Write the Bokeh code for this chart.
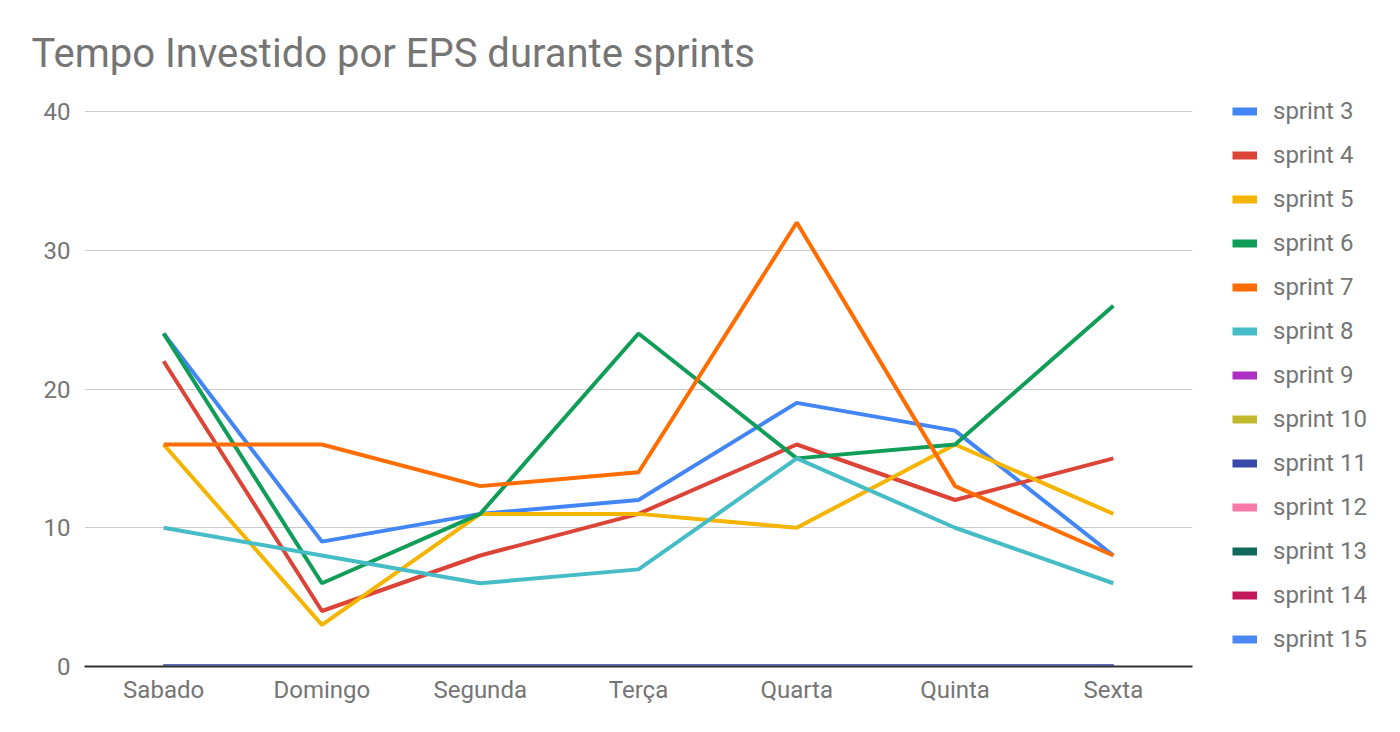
from bokeh.plotting import figure
from bokeh.layouts import row
from bokeh.models import FactorRange, Range1d, FixedTicker, Legend, LegendItem
from bokeh.embed import file_html
from bokeh.resources import INLINE

days = ["Sabado", "Domingo", "Segunda", "Terça", "Quarta", "Quinta", "Sexta"]
series_names = ["sprint 3", "sprint 4", "sprint 5", "sprint 6", "sprint 7", "sprint 8", "sprint 9",
                "sprint 10", "sprint 11", "sprint 12", "sprint 13", "sprint 14", "sprint 15"]
sprint3 = [24, 9, 11, 12, 19, 17, 8]
sprint4 = [22, 4, 8, 11, 16, 12, 15]
sprint5 = [16, 3, 11, 11, 10, 16, 11]
sprint6 = [24, 6, 11, 24, 15, 16, 26]
sprint7 = [16, 16, 13, 14, 32, 13, 8]
sprint8 = [10, 8, 6, 7, 15, 10, 6]
sprint9 = [0, 0, 0, 0, 0, 0, 0]
sprint10 = [0, 0, 0, 0, 0, 0, 0]
sprint11 = [0, 0, 0, 0, 0, 0, 0]
sprint12 = [0, 0, 0, 0, 0, 0, 0]
sprint13 = [0, 0, 0, 0, 0, 0, 0]
sprint14 = [0, 0, 0, 0, 0, 0, 0]
sprint15 = [0, 0, 0, 0, 0, 0, 0]
y_ticks = [0, 10, 20, 30, 40]

all_series = [sprint3, sprint4, sprint5, sprint6, sprint7, sprint8, sprint9,
              sprint10, sprint11, sprint12, sprint13, sprint14, sprint15]
colors = ["#4285F4", "#DB4437", "#F4B400", "#0F9D58", "#FF6D00", "#46BDC6", "#AB30C4",
          "#C2B82E", "#3949AB", "#F77BA6", "#0E6B5A", "#C2185B", "#4A89F3"]

FONT = "Roboto"
TXT = "#757575"

# frame spans y=97..666 px; top tick 40 sits at y=111
TOP = 97
BOTTOM = 666
Y40 = 111
y_end = 40 * (BOTTOM - TOP) / (BOTTOM - Y40)

p = figure(width=1212, height=724, x_range=FactorRange(*days), y_range=Range1d(0, y_end),
           output_backend="svg", toolbar_location=None,
           min_border_left=84, min_border_right=20, min_border_top=TOP, min_border_bottom=724 - BOTTOM)
p.outline_line_color = None

p.title.text = "Tempo Investido por EPS durante sprints"
p.title.text_font = FONT
p.title.text_font_size = "40px"
p.title.text_font_style = "normal"
p.title.text_color = TXT
p.title.align = "left"
p.title.offset = -53
p.title.standoff = 42

p.yaxis.ticker = FixedTicker(ticks=y_ticks)
p.yaxis.axis_line_color = None
p.yaxis.major_tick_line_color = None
p.yaxis.minor_tick_line_color = None
p.yaxis.major_label_text_font = FONT
p.yaxis.major_label_text_font_size = "24px"
p.yaxis.major_label_text_color = TXT
p.yaxis.major_label_standoff = 8

p.xaxis.axis_line_color = "#333333"
p.xaxis.axis_line_width = 2
p.xaxis.major_tick_line_color = None
p.xaxis.minor_tick_line_color = None
p.xaxis.major_label_text_font = FONT
p.xaxis.major_label_text_font_size = "24px"
p.xaxis.major_label_text_color = TXT
p.xaxis.major_label_standoff = 3

p.xgrid.grid_line_color = None
p.ygrid.grid_line_color = "#cccccc"
p.ygrid.grid_line_width = 1

# legend figure
lf = figure(width=180, height=724, x_range=FactorRange(*days), y_range=Range1d(0, 40),
            output_backend="svg", toolbar_location=None,
            min_border_left=0, min_border_right=0, min_border_top=0, min_border_bottom=0)
lf.axis.visible = False
lf.grid.visible = False
lf.outline_line_color = None

nan = float("nan")
items = []
for name, vals, col in zip(series_names, all_series, colors):
    p.line(x=days, y=vals, line_color=col, line_width=4)
    swatch = lf.line(x=days, y=[nan] * len(days), line_color=col, line_width=8)
    items.append(LegendItem(label=name, renderers=[swatch]))

legend = Legend(items=items, location=(20, 13), orientation="vertical",
                glyph_width=25, glyph_height=22, label_height=22, spacing=16,
                label_standoff=16, padding=0, margin=0,
                label_text_font=FONT, label_text_font_size="24px", label_text_color=TXT,
                border_line_color=None, background_fill_alpha=0)
lf.add_layout(legend)

layout = row(p, lf, spacing=0)
open("out.html", "w").write(file_html(layout, INLINE))
